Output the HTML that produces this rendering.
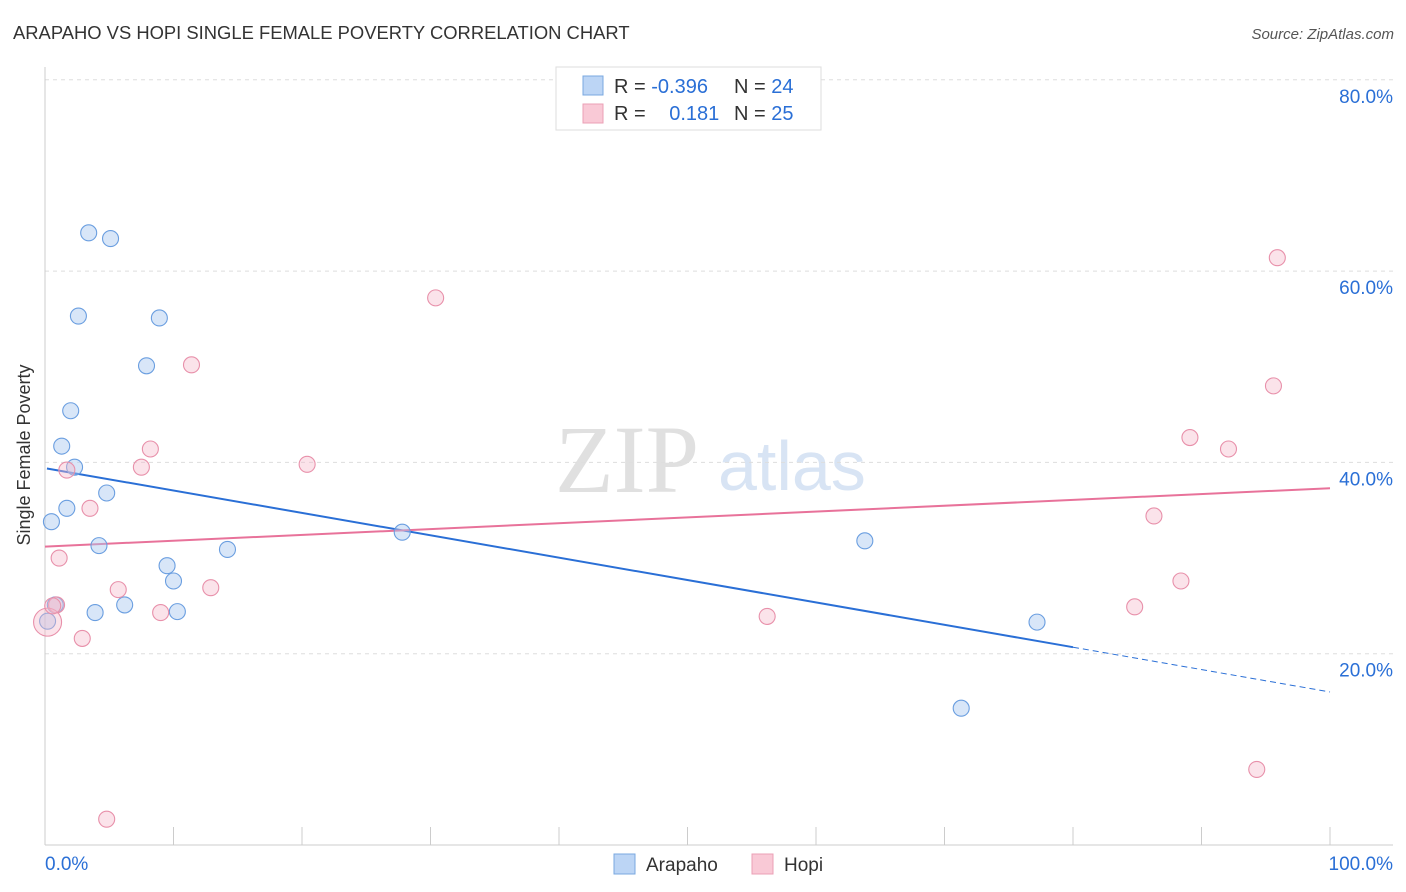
<!DOCTYPE html>
<html><head><meta charset="utf-8"><style>
body{margin:0;background:#fff;font-family:"Liberation Sans",sans-serif;}
svg{display:block}
</style></head><body>
<svg id="chart" width="1406" height="892" xmlns="http://www.w3.org/2000/svg">
<text x="13" y="39" font-size="18.4" fill="#333">ARAPAHO VS HOPI SINGLE FEMALE POVERTY CORRELATION CHART</text>
<text x="1394" y="39" font-size="15" fill="#555" font-style="italic" text-anchor="end">Source: ZipAtlas.com</text>
<text x="30" y="455" font-size="18" fill="#333" text-anchor="middle" transform="rotate(-90 30 455)">Single Female Poverty</text>
<text x="555" y="492" font-size="96" fill="#e0e0e0" font-family="Liberation Serif,serif">ZIP</text>
<text x="718" y="490" font-size="70" fill="#d8e4f4">atlas</text>
<g id="grid"></g><g id="axes"></g><g id="lines"></g><g id="points"></g>
<g>
<rect x="556" y="67" width="265" height="63" fill="#fff" stroke="#ddd"/>
<rect x="583" y="76" width="20" height="19" fill="#bcd5f5" stroke="#7aa8e0"/>
<rect x="583" y="104" width="20" height="19" fill="#f9c9d6" stroke="#eba0b6"/>
<text x="614" y="93" font-size="20" fill="#333">R = <tspan fill="#2a6fd6">-0.396</tspan></text>
<text x="734" y="93" font-size="20" fill="#333">N = <tspan fill="#2a6fd6">24</tspan></text>
<text x="614" y="120" font-size="20" fill="#333">R = <tspan fill="#2a6fd6" dx="18">0.181</tspan></text>
<text x="734" y="120" font-size="20" fill="#333">N = <tspan fill="#2a6fd6">25</tspan></text>
</g>
<g>
<rect x="614" y="854" width="21" height="20" fill="#bcd5f5" stroke="#7aa8e0"/>
<text x="646" y="871" font-size="19" fill="#333">Arapaho</text>
<rect x="752" y="854" width="21" height="20" fill="#f9c9d6" stroke="#eba0b6"/>
<text x="784" y="871" font-size="19" fill="#333">Hopi</text>
</g>
</svg>
<script>
const yTicks=[20,40,60,80];
const yTickLabels=["20.0%","40.0%","60.0%","80.0%"];
const xTicks=[0,10,20,30,40,50,60,70,80,90,100];
const arapahoX=[3.4,5.1,2.6,8.9,7.9,2.0,1.3,2.3,4.8,1.7,0.5,4.2,14.2,9.5,10.0,0.8,6.2,3.9,10.3,0.2,27.8,63.8,77.2,71.3];
const arapahoY=[64.0,63.4,55.3,55.1,50.1,45.4,41.7,39.5,36.8,35.2,33.8,31.3,30.9,29.2,27.6,25.1,25.1,24.3,24.4,23.4,32.7,31.8,23.3,14.3];
const hopiX=[95.9,30.4,11.4,95.6,89.1,92.1,8.2,20.4,7.5,1.7,3.5,86.3,1.1,88.4,5.7,12.9,0.9,84.8,9.0,56.2,0.2,2.9,94.3,4.8,0.6];
const hopiY=[61.4,57.2,50.2,48.0,42.6,41.4,41.4,39.8,39.5,39.2,35.2,34.4,30.0,27.6,26.7,26.9,25.1,24.9,24.3,23.9,23.3,21.6,7.9,2.7,25.0];
const arapahoTrend=[39.4,16.0];
const hopiTrend=[31.2,37.3];
const X=v=>45+v*12.85, Y=v=>845-v*9.565;
const NS="http://www.w3.org/2000/svg";
function mk(p,t,a){const e=document.createElementNS(NS,t);for(const k in a)e.setAttribute(k,a[k]);document.getElementById(p).appendChild(e);return e;}
yTicks.forEach((t,i)=>{
 const l=mk('grid','line',{x1:45,x2:1393,y1:Y(t),y2:Y(t),stroke:'#ddd','stroke-dasharray':'4 4'});
 
 
 const tx=mk('grid','text',{x:1393,y:Y(t)+23,'font-size':19,fill:'#2a6fd6','text-anchor':'end'});
 tx.textContent=yTickLabels[i];
 
 
});
const ax=mk('axes','line',{x1:45,x2:45,y1:67,y2:845,stroke:'#ccc'});


const bx=mk('axes','line',{x1:45,x2:1393,y1:845,y2:845,stroke:'#ccc'});


xTicks.forEach(t=>{const l=mk('axes','line',{x1:X(t),x2:X(t),y1:827,y2:845,stroke:'#ccc'});
 
 });
const xl0=mk('axes','text',{x:45,y:870,'font-size':19,fill:'#2a6fd6'});xl0.textContent='0.0%';


const xl1=mk('axes','text',{x:1393,y:870,'font-size':19,fill:'#2a6fd6','text-anchor':'end'});xl1.textContent='100.0%';


const bAt=x=>arapahoTrend[0]+(arapahoTrend[1]-arapahoTrend[0])*x/100;
const t1=mk('lines','line',{x1:X(0.15),y1:Y(bAt(0.15)),x2:X(80),y2:Y(bAt(80)),stroke:'#2a6fd6','stroke-width':2});


const t2=mk('lines','line',{x1:X(80),y1:Y(bAt(80)),x2:X(100),y2:Y(bAt(100)),stroke:'#2a6fd6','stroke-width':1,'stroke-dasharray':'6 4'});


const t3=mk('lines','line',{x1:X(0),y1:Y(hopiTrend[0]),x2:X(100),y2:Y(hopiTrend[1]),stroke:'#e8729a','stroke-width':2});


arapahoX.forEach((x,i)=>{const c=mk('points','circle',{cx:X(x),cy:Y(arapahoY[i]),r:8,fill:'rgba(168,200,240,0.45)',stroke:'#6a9ee0','stroke-width':1.1});
 
 });
hopiX.forEach((x,i)=>{const c=mk('points','circle',{cx:X(x),cy:Y(hopiY[i]),r:(i==20?14:8),fill:'rgba(245,184,202,0.4)',stroke:'#e890aa','stroke-width':1.1});
 
 });
</script>
</body></html>
